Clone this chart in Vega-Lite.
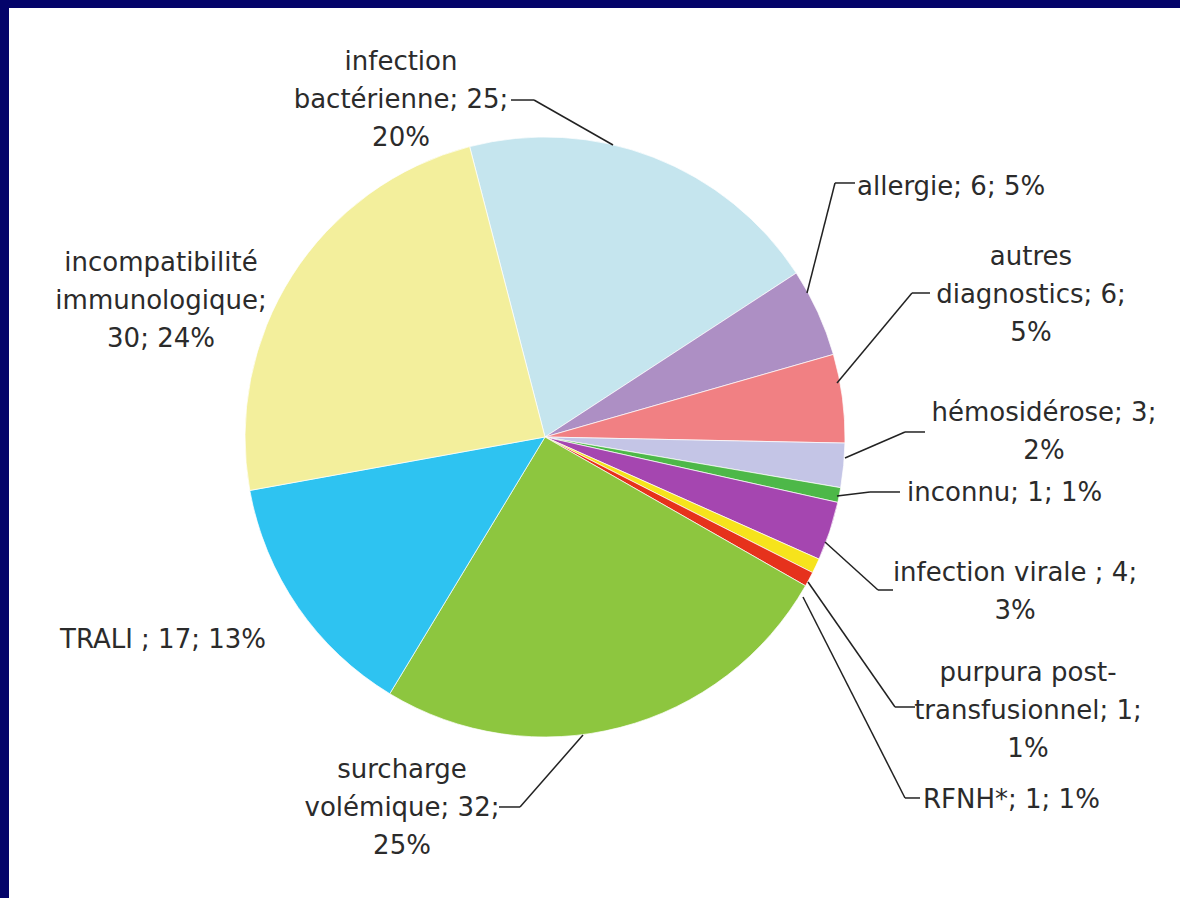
{
  "$schema": "https://vega.github.io/schema/vega-lite/v6.json",
  "width": 1171,
  "height": 890,
  "autosize": {"type": "none"},
  "padding": {"left": 9, "top": 8, "right": 0, "bottom": 0},
  "background": "#04046a",
  "view": {"fill": "#ffffff", "stroke": null},
  "config": {"text": {"font": "DejaVu Sans", "fontSize": 26, "color": "#2b2b2b", "lineHeight": 38, "baseline": "middle", "lineBreak": "\n"}},
  "data": {"values": [
    {"i": 0, "cat": "infection bactérienne", "n": 25, "label": "infection\nbactérienne; 25;\n20%"},
    {"i": 1, "cat": "allergie", "n": 6, "label": "allergie; 6; 5%"},
    {"i": 2, "cat": "autres diagnostics", "n": 6, "label": "autres\ndiagnostics; 6;\n5%"},
    {"i": 3, "cat": "hémosidérose", "n": 3, "label": "hémosidérose; 3;\n2%"},
    {"i": 4, "cat": "inconnu", "n": 1, "label": "inconnu; 1; 1%"},
    {"i": 5, "cat": "infection virale", "n": 4, "label": "infection virale ; 4;\n3%"},
    {"i": 6, "cat": "purpura post-transfusionnel", "n": 1, "label": "purpura post-\ntransfusionnel; 1;\n1%"},
    {"i": 7, "cat": "RFNH*", "n": 1, "label": "RFNH*; 1; 1%"},
    {"i": 8, "cat": "surcharge volémique", "n": 32, "label": "surcharge\nvolémique; 32;\n25%"},
    {"i": 9, "cat": "TRALI", "n": 17, "label": "TRALI ; 17; 13%"},
    {"i": 10, "cat": "incompatibilité immunologique", "n": 30, "label": "incompatibilité\nimmunologique;\n30; 24%"}
  ]},
  "layer": [
    {
      "mark": {"type": "arc", "outerRadius": 300, "x": {"expr": "scale('x', 0)"}, "y": {"expr": "scale('y', 0)"}, "stroke": "#ffffff", "strokeWidth": 0.7},
      "encoding": {
        "theta": {"field": "n", "type": "quantitative", "stack": true, "scale": {"range": [-0.254, 6.0292]}},
        "order": {"field": "i", "type": "quantitative"},
        "color": {"field": "cat", "type": "nominal", "legend": null, "scale": {
          "domain": ["infection bactérienne", "allergie", "autres diagnostics", "hémosidérose", "inconnu", "infection virale", "purpura post-transfusionnel", "RFNH*", "surcharge volémique", "TRALI", "incompatibilité immunologique"],
          "range": ["#c5e5ee", "#ad8fc4", "#f18083", "#c4c5e6", "#4db848", "#a546b0", "#f6e31c", "#e6321c", "#8dc63f", "#2ec3f1", "#f3ef9c"]}}
      }
    },
    {
      "transform": [
        {"filter": "datum.i < 9"},
        {"calculate": "[22.67,87.33,97.33,100,97.33,93.33,87.67,86,12.67][datum.i]", "as": "ax"},
        {"calculate": "[97.33,48,18,-7,-19.67,-35,-48.33,-53.33,-99.33][datum.i]", "as": "ay"},
        {"calculate": "[-3.67,96.67,122.33,120,108.33,111,116.67,120,-8.33][datum.i]", "as": "ex"},
        {"calculate": "[112.33,84.67,48,1.67,-18.33,-51,-90,-120.33,-123.33][datum.i]", "as": "ey"}
      ],
      "mark": {"type": "rule", "color": "#222222", "strokeWidth": 1.5},
      "encoding": {
        "x": {"field": "ax", "type": "quantitative", "scale": {"domain": [-178.667, 211.667], "nice": false, "zero": false}, "axis": null},
        "y": {"field": "ay", "type": "quantitative", "scale": {"domain": [-153.667, 143], "nice": false, "zero": false}, "axis": null},
        "x2": {"field": "ex"},
        "y2": {"field": "ey"}
      }
    },
    {
      "transform": [
        {"filter": "datum.i < 9"},
        {"calculate": "[-3.67,96.67,122.33,120,108.33,111,116.67,120,-8.33][datum.i]", "as": "ex"},
        {"calculate": "[112.33,84.67,48,1.67,-18.33,-51,-90,-120.33,-123.33][datum.i]", "as": "ey"},
        {"calculate": "[-11.33,103.33,128.33,126.67,118.33,116,123.33,125,-15.33][datum.i]", "as": "tx"}
      ],
      "mark": {"type": "rule", "color": "#222222", "strokeWidth": 1.5},
      "encoding": {
        "x": {"field": "ex", "type": "quantitative", "scale": {"domain": [-178.667, 211.667], "nice": false, "zero": false}, "axis": null},
        "y": {"field": "ey", "type": "quantitative", "scale": {"domain": [-153.667, 143], "nice": false, "zero": false}, "axis": null},
        "x2": {"field": "tx"},
        "y2": {"field": "ey"}
      }
    },
    {
      "transform": [
        {"filter": "indexof([1,4,7], datum.i) < 0"},
        {"calculate": "[-48,0,162,166.33,0,156.67,161,0,-47.67,-127.33,-128][datum.i]", "as": "lx"},
        {"calculate": "[125,0,60,8,0,-45.33,-78.67,0,-111,-67.67,58][datum.i]", "as": "ly"}
      ],
      "mark": {"type": "text", "align": "center"},
      "encoding": {
        "x": {"field": "lx", "type": "quantitative", "scale": {"domain": [-178.667, 211.667], "nice": false, "zero": false}, "axis": null},
        "y": {"field": "ly", "type": "quantitative", "scale": {"domain": [-153.667, 143], "nice": false, "zero": false}, "axis": null},
        "text": {"field": "label", "type": "nominal"}
      }
    },
    {
      "transform": [
        {"filter": "indexof([1,4,7], datum.i) >= 0"},
        {"calculate": "[0,104,0,0,120.67,0,0,126][datum.i]", "as": "lx"},
        {"calculate": "[0,83.33,0,0,-18.67,0,0,-121][datum.i]", "as": "ly"}
      ],
      "mark": {"type": "text", "align": "left"},
      "encoding": {
        "x": {"field": "lx", "type": "quantitative", "scale": {"domain": [-178.667, 211.667], "nice": false, "zero": false}, "axis": null},
        "y": {"field": "ly", "type": "quantitative", "scale": {"domain": [-153.667, 143], "nice": false, "zero": false}, "axis": null},
        "text": {"field": "label", "type": "nominal"}
      }
    }
  ]
}
